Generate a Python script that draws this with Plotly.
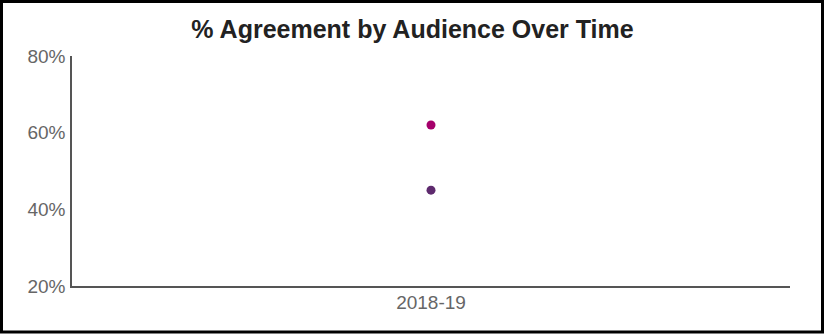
import plotly.graph_objects as go

categories = ["2018-19"]
series_names = ["Audience A", "Audience B"]
series_values = [[62], [45]]
series_colors = ["#A5006B", "#5E2A6E"]
y_ticks = [20, 40, 60, 80]
y_tick_labels = ["20%", "40%", "60%", "80%"]

W, H = 825, 335
L, R, T, B = 72, 35, 56, 49
pw, ph = W - L - R, H - T - B

fig = go.Figure()
for name, vals, col in zip(series_names, series_values, series_colors):
    fig.add_trace(go.Scatter(x=categories, y=vals, mode="markers", name=name,
                             marker=dict(color=col, size=9, line=dict(width=0))))

def px_x(p):
    return (p - L) / pw

def px_y(p):
    return (H - B - p) / ph

fig.add_shape(type="rect", xref="paper", yref="paper",
              x0=px_x(1.5), x1=px_x(822.5), y0=px_y(332), y1=px_y(1.5),
              line=dict(color="black", width=3), layer="above")

fig.update_layout(
    width=W, height=H,
    margin=dict(l=L, r=R, t=T, b=B),
    paper_bgcolor="white", plot_bgcolor="white",
    showlegend=False,
    font=dict(family="Liberation Sans, Arial, sans-serif", color="#666666"),
    title=dict(text="<b>% Agreement by Audience Over Time</b>", x=0.5, xanchor="center",
               y=1 - 29 / H, yanchor="middle",
               font=dict(size=25, color="#222222", family="Liberation Sans, Arial, sans-serif")),
    xaxis=dict(type="category", showgrid=False, zeroline=False, showline=True,
               linecolor="#555555", linewidth=2, ticks="", ticklabelstandoff=-2,
               tickfont=dict(size=19, color="#666666")),
    yaxis=dict(range=[20, 80], tickvals=y_ticks, ticktext=y_tick_labels,
               showgrid=False, zeroline=False, showline=True, linecolor="#555555",
               linewidth=1.5, ticks="", ticklabelstandoff=1,
               tickfont=dict(size=19, color="#666666")),
)

fig.write_html("out.html", config={"displayModeBar": False},
               post_script="document.body.style.margin='0';")
